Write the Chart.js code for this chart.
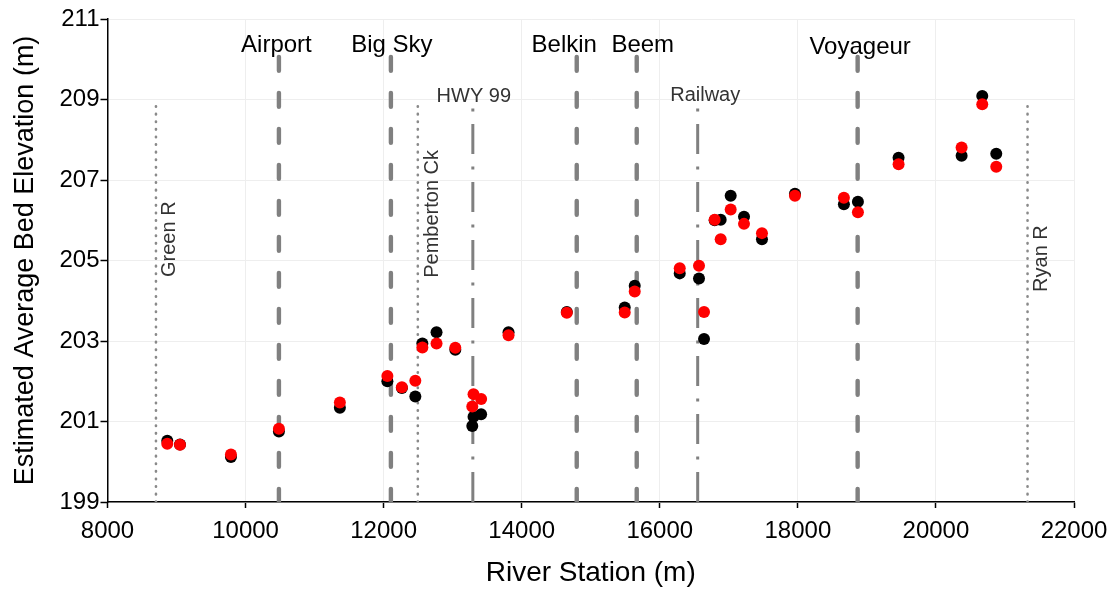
<!DOCTYPE html>
<html><head><meta charset="utf-8">
<script src="https://cdn.jsdelivr.net/npm/chart.js@4/dist/chart.umd.min.js"></script>
<style>html,body{margin:0;padding:0;background:#fff;} #wrap{width:1108px;height:590px;}</style>
</head><body><div id="wrap"><canvas id="c" width="1108" height="590"></canvas></div>
<script>
// ---- data ----
const stations = [8866, 9050, 9788, 10483, 11366, 12054, 12264, 12459, 12561, 12766, 13038, 13284, 13302, 13412, 13809, 14653, 15492, 15637, 16289, 16568, 16641, 16795, 16882, 17027, 17220, 17480, 17958, 18667, 18870, 19459, 20372, 20671, 20874];
const elevBlack = [200.52, 200.43, 200.12, 200.75, 201.34, 202.00, 201.83, 201.62, 202.94, 203.22, 202.78, 200.89, 201.12, 201.18, 203.22, 203.72, 203.83, 204.37, 204.68, 204.55, 203.05, 206.00, 206.01, 206.61, 206.09, 205.53, 206.66, 206.40, 206.46, 207.55, 207.60, 209.09, 207.65];
const elevRed = [200.45, 200.42, 200.18, 200.82, 201.47, 202.13, 201.85, 202.01, 202.84, 202.94, 202.83, 201.37, 201.68, 201.56, 203.14, 203.70, 203.71, 204.23, 204.81, 204.87, 203.72, 206.01, 205.53, 206.27, 205.91, 205.68, 206.61, 206.56, 206.20, 207.39, 207.81, 208.88, 207.33];

const refNames = ['Green R', 'Airport', 'Big Sky', 'Pemberton Ck', 'HWY 99', 'Belkin', 'Beem', 'Railway', 'Voyageur', 'Ryan R'];
const refStations = [8702, 10483, 12105, 12495, 13292, 14797, 15666, 16549, 18866, 21327];
const refKinds = ['creek', 'bridge', 'bridge', 'creek', 'road', 'bridge', 'bridge', 'road', 'bridge', 'creek'];
const refTop = {creek: 209, road: 209, bridge: 210.06};

const xTicks = [8000, 10000, 12000, 14000, 16000, 18000, 20000, 22000];
const yTicks = [199, 201, 203, 205, 207, 209, 211];

// label anchors (data units)
const labelText = ['Airport', 'Big Sky', 'Belkin', 'Beem', 'Voyageur', 'HWY 99', 'Railway', 'Green R', 'Pemberton Ck', 'Ryan R'];
const labelX = [10447, 12119, 14616, 15753, 18902, 13306, 16658, 8905, 12713, 21530];
const labelY = [210.19, 210.17, 210.17, 210.18, 210.13, 208.95, 208.96, 204.59, 204.57, 204.22];
const labelKind = ['big', 'big', 'big', 'big', 'big', 'small', 'small', 'rot', 'rot', 'rot'];

// ---- styles ----
const FONT = '"Liberation Sans", Arial, sans-serif';
const lineStyles = {
  bridge: {color: '#808080', width: 4.4, dash: [14, 22], cap: 'round', fromTop: true},
  creek: {color: '#8a8a8a', width: 2.6, dash: [0.5, 7.1], cap: 'round', fromTop: false},
  road: {color: '#808080', width: 3, dash: [30, 12.5, 3, 12.5], cap: 'butt', fromTop: false}
};
const labelStyles = {
  big: {size: 24, color: '#000', rotate: false},
  small: {size: 20, color: '#333', rotate: false},
  rot: {size: 20, color: '#333', rotate: true}
};

const datasets = [];
datasets.push({
  label: 'Series A', data: stations.map((s, i) => ({x: s, y: elevRed[i]})),
  backgroundColor: '#ff0000', borderColor: '#ff0000', pointRadius: 6, pointBorderWidth: 0, order: 0
});
datasets.push({
  label: 'Series B', data: stations.map((s, i) => ({x: s, y: elevBlack[i]})),
  backgroundColor: '#000000', borderColor: '#000000', pointRadius: 6, pointBorderWidth: 0, order: 1
});
refStations.forEach((s, i) => {
  const st = lineStyles[refKinds[i]];
  const top = {x: s, y: refTop[refKinds[i]]}, bot = {x: s, y: 199};
  datasets.push({
    label: refNames[i], data: st.fromTop ? [top, bot] : [bot, top],
    showLine: true, borderColor: st.color, borderWidth: st.width, borderDash: st.dash,
    borderCapStyle: st.cap, pointRadius: 0, order: 2, fill: false
  });
});

const labelPlugin = {
  id: 'refLabels',
  afterDatasetsDraw(chart) {
    const {ctx} = chart; const xs = chart.scales.x, ys = chart.scales.y;
    ctx.save();
    labelText.forEach((t, i) => {
      const st = labelStyles[labelKind[i]];
      const px = xs.getPixelForValue(labelX[i]), py = ys.getPixelForValue(labelY[i]);
      ctx.save();
      ctx.font = st.size + 'px ' + FONT;
      ctx.fillStyle = st.color;
      ctx.translate(px, py);
      if (st.rotate) { ctx.rotate(-Math.PI / 2); ctx.textAlign = 'left'; ctx.textBaseline = 'middle'; }
      else { ctx.textAlign = 'center'; ctx.textBaseline = 'alphabetic'; }
      ctx.fillText(t, 0, 0);
      ctx.restore();
    });
    ctx.restore();
  }
};

new Chart(document.getElementById('c'), {
  type: 'scatter',
  data: {datasets},
  plugins: [labelPlugin],
  options: {
    responsive: false, animation: false, devicePixelRatio: 1,
    layout: {padding: {top: 19, right: 34, left: 0, bottom: 0}},
    plugins: {legend: {display: false}, tooltip: {enabled: false}},
    scales: {
      x: {
        type: 'linear', min: xTicks[0], max: xTicks[xTicks.length - 1],
        afterBuildTicks: s => { s.ticks = xTicks.map(v => ({value: v})); },
        afterFit: s => { s.height = 88; s.paddingRight = 30; s.paddingLeft = 30; },
        ticks: {callback: v => String(v), font: {size: 24, family: FONT}, color: '#000', padding: 9, maxRotation: 0, autoSkip: false},
        grid: {color: '#eeeeee', lineWidth: 1, tickColor: '#000', tickLength: 6, tickWidth: 1.5},
        border: {color: '#000', width: 1.5},
        title: {display: true, text: 'River Station (m)', font: {size: 28, family: FONT}, color: '#000', padding: 0}
      },
      y: {
        type: 'linear', min: yTicks[0], max: yTicks[yTicks.length - 1],
        afterBuildTicks: s => { s.ticks = yTicks.map(v => ({value: v})); },
        afterFit: s => { s.width = 107.5; },
        ticks: {callback: v => String(v), font: {size: 24, family: FONT}, color: '#000', padding: 1, autoSkip: false},
        grid: {color: '#eeeeee', lineWidth: 1, tickColor: '#000', tickLength: 7, tickWidth: 1.5},
        border: {color: '#000', width: 1.5},
        title: {display: true, text: 'Estimated Average Bed Elevation (m)', font: {size: 27, family: FONT}, color: '#000', padding: {top: 9, bottom: 0}}
      }
    }
  }
});
</script></body></html>
